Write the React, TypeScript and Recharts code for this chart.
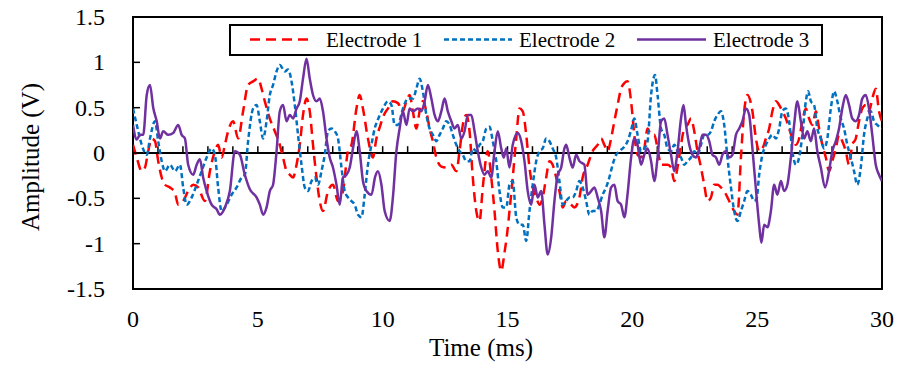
import { LineChart, Line, XAxis, YAxis, ReferenceLine, ReferenceArea, Legend } from "recharts";

// time in ms, amplitude in V
const e1Time = [
  0, 0.15, 0.35, 0.48, 0.61, 0.75, 0.88, 1.01, 1.15, 1.28, 1.48, 1.68, 1.81, 2.01, 2.21, 2.41, 2.61, 2.88, 3.08, 3.28,
  3.41, 3.55, 3.68, 3.81, 4.01, 4.21, 4.41, 4.61, 4.81, 5.01, 5.15, 5.28, 5.48, 5.68, 5.88, 6.01, 6.15, 6.28, 6.41, 6.55,
  6.68, 6.81, 6.95, 7.08, 7.21, 7.35, 7.48, 7.61, 7.81, 8.01, 8.21, 8.41, 8.61, 8.75, 8.95, 9.08, 9.21, 9.41, 9.61, 9.75,
  9.9, 10.05, 10.21, 10.41, 10.61, 10.81, 10.95, 11.08, 11.21, 11.35, 11.48, 11.61, 11.75, 11.88, 12.01, 12.15, 12.35, 12.55, 12.75, 12.95,
  13.08, 13.21, 13.35, 13.48, 13.61, 13.75, 13.88, 14.01, 14.21, 14.35, 14.48, 14.61, 14.75, 14.88, 14.98, 15.08, 15.21, 15.35, 15.48, 15.61,
  15.75, 15.88, 16.01, 16.15, 16.28, 16.41, 16.55, 16.68, 16.81, 16.95, 17.08, 17.21, 17.35, 17.55, 17.68, 17.88, 18.01, 18.21, 18.41, 18.61,
  18.75, 18.88, 19.01, 19.15, 19.28, 19.41, 19.55, 19.68, 19.81, 19.95, 20.08, 20.21, 20.35, 20.48, 20.61, 20.75, 20.88, 21.01, 21.15, 21.28,
  21.41, 21.55, 21.68, 21.81, 21.95, 22.08, 22.21, 22.35, 22.48, 22.61, 22.75, 22.88, 23.01, 23.15, 23.28, 23.41, 23.55, 23.68, 23.81, 23.95,
  24.08, 24.21, 24.35, 24.48, 24.61, 24.81, 24.95, 25.08, 25.21, 25.35, 25.48, 25.61, 25.75, 25.88, 26.01, 26.15, 26.28, 26.41, 26.55, 26.68,
  26.81, 26.95, 27.08, 27.21, 27.35, 27.48, 27.61, 27.75, 27.88, 28.01, 28.15, 28.28, 28.41, 28.55, 28.68, 28.81, 28.95, 29.08, 29.21, 29.35,
  29.48, 29.61, 29.75, 29.88, 30,
];
const e1Amp = [
  0.09, -0.05, -0.2, -0.16, 0.02, 0.16, 0.13, -0.09, -0.27, -0.35, -0.38, -0.44, -0.57, -0.53, -0.42, -0.35, -0.38, -0.53, -0.2, 0.02,
  0.09, -0.05, 0.09, 0.24, 0.35, 0.16, 0.46, 0.75, 0.79, 0.82, 0.71, 0.57, 0.38, 0.24, 0.09, -0.05, -0.2, -0.24, -0.27, -0.13,
  0.09, 0.42, 0.6, 0.46, 0.09, -0.27, -0.53, -0.64, -0.42, -0.35, -0.53, -0.42, 0.02, 0.09, 0.49, 0.64, 0.49, 0.16, -0.05, 0.16,
  0.3, 0.42, 0.49, 0.57, 0.55, 0.46, 0.57, 0.64, 0.46, 0.27, 0.46, 0.57, 0.46, 0.27, 0.13, -0.05, -0.15, -0.16, -0.13, -0.2,
  0.02, 0.31, 0.42, 0.24, -0.27, -0.64, -0.75, -0.38, 0.02, -0.27, -0.64, -1.08, -1.3, -1.1, -0.9, -0.64, -0.27, 0.16, 0.49, 0.46,
  0.2, -0.16, -0.38, -0.49, -0.57, -0.49, -0.27, -0.09, -0.13, -0.27, -0.42, -0.6, -0.53, -0.57, -0.6, -0.49, -0.27, -0.13, 0.02, 0.09,
  0.16, 0.09, 0.02, 0.16, 0.35, 0.53, 0.71, 0.77, 0.79, 0.57, 0.2, -0.02, -0.05, 0.05, 0.27, 0.2, 0.2, 0.05, -0.13, -0.13,
  -0.13, -0.16, -0.31, -0.16, 0.09, 0.27, 0.31, 0.38, 0.24, 0.02, -0.16, -0.35, -0.53, -0.49, -0.35, -0.35, -0.38, -0.42, -0.49, -0.57,
  -0.64, -0.68, -0.05, 0.46, 0.64, 0.46, 0.16, 0.02, 0.05, 0.16, 0.27, 0.46, 0.57, 0.53, 0.46, 0.38, 0.27, 0.16, 0.09, 0.16,
  0.35, 0.49, 0.38, 0.31, 0.46, 0.27, 0.09, -0.05, -0.2, -0.09, 0.05, 0.2, 0.13, 0.02, -0.13, 0.09, 0.16, 0.35, 0.49, 0.53,
  0.46, 0.6, 0.71, 0.46, 0.35,
];

const e2Time = [
  0, 0.15, 0.35, 0.55, 0.68, 0.88, 1.01, 1.15, 1.28, 1.48, 1.68, 1.88, 2.01, 2.15, 2.35, 2.55, 2.75, 2.95, 3.15, 3.28,
  3.41, 3.55, 3.75, 3.95, 4.15, 4.35, 4.48, 4.61, 4.81, 4.95, 5.08, 5.21, 5.35, 5.48, 5.61, 5.75, 5.88, 6.08, 6.21, 6.35,
  6.48, 6.61, 6.75, 6.88, 7.01, 7.15, 7.28, 7.41, 7.55, 7.68, 7.81, 7.95, 8.08, 8.21, 8.35, 8.48, 8.61, 8.75, 8.88, 9.01,
  9.15, 9.28, 9.41, 9.55, 9.68, 9.81, 10.01, 10.21, 10.35, 10.48, 10.61, 10.81, 11.01, 11.21, 11.35, 11.48, 11.61, 11.75, 11.88, 12.01,
  12.15, 12.28, 12.41, 12.55, 12.68, 12.81, 12.95, 13.08, 13.21, 13.35, 13.48, 13.61, 13.75, 13.88, 14.01, 14.15, 14.28, 14.41, 14.55, 14.68,
  14.81, 14.95, 15.08, 15.21, 15.35, 15.48, 15.61, 15.75, 15.88, 16.01, 16.15, 16.28, 16.41, 16.55, 16.68, 16.81, 16.95, 17.08, 17.21, 17.35,
  17.48, 17.61, 17.75, 17.88, 18.01, 18.15, 18.28, 18.41, 18.55, 18.68, 18.81, 18.95, 19.08, 19.21, 19.35, 19.48, 19.68, 19.81, 19.95, 20.08,
  20.21, 20.35, 20.48, 20.61, 20.75, 20.91, 21.01, 21.15, 21.28, 21.41, 21.55, 21.68, 21.81, 21.95, 22.08, 22.21, 22.35, 22.48, 22.61, 22.75,
  22.88, 23.01, 23.15, 23.28, 23.41, 23.55, 23.68, 23.81, 23.95, 24.08, 24.21, 24.35, 24.48, 24.61, 24.75, 24.88, 24.98, 25.08, 25.21, 25.35,
  25.48, 25.61, 25.75, 25.88, 26.01, 26.15, 26.28, 26.41, 26.55, 26.68, 26.81, 26.95, 27.04, 27.15, 27.28, 27.41, 27.55, 27.68, 27.81, 27.95,
  28.08, 28.21, 28.35, 28.48, 28.61, 28.75, 28.88, 29.01, 29.15, 29.28, 29.41, 29.55, 29.68, 29.81, 30,
];
const e2Amp = [
  0.49, 0.31, 0.09, -0.02, 0.16, 0.35, 0.13, -0.09, -0.2, -0.13, -0.2, -0.13, -0.38, -0.57, -0.49, -0.35, -0.2, -0.05, 0.05, -0.02,
  -0.38, -0.64, -0.57, -0.46, -0.38, -0.27, -0.24, 0.13, 0.49, 0.53, 0.35, 0.16, 0.35, 0.64, 0.75, 0.9, 0.97, 0.9, 0.92, 0.79,
  0.53, 0.2, -0.13, -0.38, -0.42, -0.31, -0.27, -0.35, -0.2, -0.02, 0.24, 0.27, 0.24, 0.16, -0.16, -0.42, -0.49, -0.53, -0.57, -0.68,
  -0.71, -0.46, -0.13, 0.09, 0.27, 0.37, 0.49, 0.57, 0.53, 0.31, 0.31, 0.49, 0.6, 0.6, 0.71, 0.82, 0.68, 0.42, 0.27, 0.2,
  0.13, 0.2, 0.27, 0.35, 0.31, 0.2, 0.09, 0.02, -0.02, -0.09, -0.09, 0.05, 0.02, 0.09, 0.13, 0.27, 0.29, 0.13, -0.09, -0.42,
  -0.6, -0.6, -0.35, -0.31, -0.71, -0.79, -0.79, -0.97, -0.64, -0.35, -0.09, 0.02, 0.05, 0.16, 0.13, 0.05, -0.05, -0.31, -0.57, -0.53,
  -0.49, -0.49, -0.42, -0.31, -0.38, -0.53, -0.68, -0.64, -0.64, -0.57, -0.46, -0.38, -0.27, -0.13, -0.02, 0.02, 0.07, 0.13, 0.25, 0.38,
  0.2, 0.02, 0.05, 0.13, 0.64, 0.86, 0.64, 0.27, 0.2, 0.05, 0.02, 0.09, 0.02, -0.05, -0.13, -0.09, -0.05, 0.02, -0.02, 0.09,
  0.2, 0.2, 0.24, 0.35, 0.42, 0.46, 0.31, -0.05, -0.38, -0.64, -0.75, -0.64, -0.53, -0.42, -0.46, -0.53, -0.5, -0.24, -0.02, 0.09,
  0.16, 0.2, 0.16, 0.27, 0.46, 0.49, 0.35, 0.02, -0.13, -0.05, 0.2, 0.57, 0.68, 0.57, 0.53, 0.27, 0.16, 0.05, 0.16, 0.49,
  0.68, 0.57, 0.38, 0.27, 0.09, -0.05, -0.2, -0.35, -0.16, 0.2, 0.38, 0.46, 0.35, 0.31, 0.27,
];

const e3Time = [
  0, 0.15, 0.28, 0.41, 0.55, 0.68, 0.81, 0.95, 1.08, 1.21, 1.41, 1.61, 1.81, 1.95, 2.08, 2.21, 2.41, 2.55, 2.68, 2.81,
  2.95, 3.15, 3.35, 3.48, 3.68, 3.88, 4.08, 4.28, 4.48, 4.68, 4.95, 5.08, 5.21, 5.35, 5.48, 5.61, 5.75, 5.88, 6.01, 6.15,
  6.28, 6.41, 6.55, 6.68, 6.81, 6.95, 7.08, 7.21, 7.35, 7.48, 7.61, 7.75, 7.88, 8.01, 8.15, 8.28, 8.41, 8.55, 8.68, 8.81,
  8.95, 9.08, 9.21, 9.35, 9.55, 9.7, 9.81, 9.95, 10.08, 10.28, 10.41, 10.55, 10.68, 10.81, 10.95, 11.08, 11.21, 11.41, 11.55, 11.68,
  11.81, 11.95, 12.08, 12.21, 12.35, 12.48, 12.61, 12.75, 12.88, 13.01, 13.15, 13.28, 13.41, 13.55, 13.68, 13.81, 13.95, 14.08, 14.21, 14.35,
  14.48, 14.61, 14.75, 14.85, 14.95, 15.08, 15.21, 15.41, 15.55, 15.68, 15.81, 15.95, 16.08, 16.21, 16.35, 16.48, 16.61, 16.75, 16.88, 17.01,
  17.15, 17.28, 17.35, 17.48, 17.61, 17.75, 17.88, 18.08, 18.21, 18.35, 18.48, 18.61, 18.75, 18.88, 19.01, 19.15, 19.28, 19.41, 19.55, 19.68,
  19.81, 19.95, 20.08, 20.21, 20.35, 20.48, 20.61, 20.75, 20.88, 21.01, 21.15, 21.28, 21.41, 21.55, 21.68, 21.81, 21.95, 22.05, 22.15, 22.28,
  22.41, 22.55, 22.68, 22.81, 22.95, 23.08, 23.21, 23.35, 23.48, 23.61, 23.75, 23.88, 24.01, 24.15, 24.28, 24.41, 24.55, 24.68, 24.81, 24.95,
  25.08, 25.17, 25.28, 25.41, 25.55, 25.68, 25.81, 25.95, 26.08, 26.21, 26.35, 26.48, 26.61, 26.75, 26.88, 27.01, 27.15, 27.28, 27.41, 27.55,
  27.72, 27.88, 28.01, 28.15, 28.28, 28.41, 28.55, 28.68, 28.81, 28.95, 29.08, 29.21, 29.35, 29.48, 29.61, 29.75, 29.88, 30,
];
const e3Amp = [
  0.31, 0.15, 0.2, 0.2, 0.64, 0.75, 0.5, 0.35, 0.16, 0.24, 0.2, 0.22, 0.31, 0.2, 0.16, -0.13, -0.24, -0.13, -0.07, -0.27,
  -0.42, -0.57, -0.62, -0.68, -0.6, -0.42, 0.02, -0.02, -0.24, -0.4, -0.49, -0.57, -0.68, -0.6, -0.42, -0.35, 0.02, 0.46, 0.53, 0.35,
  0.42, 0.38, 0.49, 0.57, 0.82, 1.04, 0.82, 0.64, 0.57, 0.6, 0.46, 0.16, -0.05, -0.16, -0.35, -0.57, -0.27, -0.24, -0.16, 0.05,
  0.24, 0.02, -0.31, -0.42, -0.46, -0.26, -0.2, -0.35, -0.64, -0.75, -0.49, 0.02, 0.27, 0.46, 0.31, 0.49, 0.46, 0.49, 0.46, 0.57,
  0.75, 0.6, 0.42, 0.35, 0.46, 0.6, 0.46, 0.35, 0.27, 0.31, 0.16, 0.24, 0.42, 0.42, 0.24, 0.02, -0.16, -0.24, -0.2, -0.27,
  0.02, 0.24, 0.05, -0.05, 0.05, -0.16, 0.09, 0.22, 0.13, -0.09, -0.42, -0.57, -0.35, -0.49, -0.42, -0.79, -1.12, -0.93, -0.53, -0.24,
  -0.16, 0.05, 0.09, -0.05, -0.16, -0.02, -0.09, -0.13, -0.46, -0.42, -0.38, -0.49, -0.64, -0.93, -0.64, -0.38, -0.35, -0.53, -0.57, -0.71,
  -0.45, -0.05, 0.16, 0.09, -0.13, -0.02, 0.05, -0.09, -0.31, -0.05, 0.35, 0.38, 0.2, -0.02, -0.2, 0.02, 0.38, 0.53, 0.31, 0.09,
  -0.02, -0.05, 0.05, 0.2, 0.2, 0.13, -0.02, -0.05, -0.13, -0.02, 0.02, -0.05, -0.02, 0.2, 0.27, 0.35, 0.49, 0.42, 0.05, -0.4,
  -0.79, -0.99, -0.79, -0.82, -0.64, -0.35, -0.46, -0.31, -0.42, -0.35, -0.05, 0.31, 0.57, 0.35, 0.16, 0.24, 0.13, 0.27, 0.02, -0.16,
  -0.38, -0.2, 0.02, 0.13, 0.27, 0.49, 0.64, 0.53, 0.38, 0.35, 0.42, 0.6, 0.64, 0.49, 0.2, -0.13, -0.24, -0.31,
];

const seriesNames = ["Electrode 1", "Electrode 2", "Electrode 3"];
const xTicks = [0, 5, 10, 15, 20, 25, 30];
const xMinorTicks = [1, 2, 3, 4, 5, 6, 7, 8, 9, 10, 11, 12, 13, 14, 15, 16, 17, 18, 19, 20, 21, 22, 23, 24, 25, 26, 27, 28, 29];
const yLabelTicks = [-1.5, -1, -0.5, 0, 0.5, 1, 1.5];
const yTicks = [-1.5, -1.25, -1, -0.75, -0.5, -0.25, 0, 0.25, 0.5, 0.75, 1, 1.25, 1.5];

const toPoints = (ts: number[], vs: number[]) => ts.map((t, i) => ({ t, v: vs[i] }));
const seriesData = [toPoints(e1Time, e1Amp), toPoints(e2Time, e2Amp), toPoints(e3Time, e3Amp)];

const styles = [
  { color: "#FF0000", dash: "10 6" },
  { color: "#0070C0", dash: "5 3" },
  { color: "#7030A0", dash: undefined },
];
// legend sample / text offsets inside the legend box
const legendSlots = [
  { x: 21, w: 64, tx: 97 },
  { x: 215, w: 68, tx: 290 },
  { x: 408, w: 69, tx: 484 },
];

const FONT = "'Liberation Serif', 'Times New Roman', serif";

function YTick({ x, y, payload }: any) {
  const labelled = yLabelTicks.includes(payload.value);
  return (
    <g>
      <line x1={x} x2={x + 7} y1={y} y2={y} stroke="#000" strokeWidth={1.5} />
      {labelled && (
        <text x={x - 28} y={y} dy="0.34em" textAnchor="end" fontFamily={FONT} fontSize={24} fill="#000">
          {payload.value}
        </text>
      )}
    </g>
  );
}

function XTick({ x, y, payload }: any) {
  return (
    <text x={x} y={y + 38} textAnchor="middle" fontFamily={FONT} fontSize={24} fill="#000">
      {payload.value}
    </text>
  );
}

function LegendBox() {
  return (
    <svg width={594} height={32} style={{ display: "block" }}>
      <rect x={1} y={1} width={592} height={30} fill="#fff" stroke="#000" strokeWidth={2} />
      {seriesNames.map((name, i) => (
        <g key={name}>
          <line
            x1={legendSlots[i].x}
            x2={legendSlots[i].x + legendSlots[i].w}
            y1={15.5}
            y2={15.5}
            stroke={styles[i].color}
            strokeWidth={2.5}
            strokeDasharray={styles[i].dash}
          />
          <text x={legendSlots[i].tx} y={23} fontFamily={FONT} fontSize={21} fill="#000">
            {name}
          </text>
        </g>
      ))}
    </svg>
  );
}

export default function App() {
  return (
    <div style={{ width: 904, height: 365, background: "#fff" }}>
      <style>{"body{margin:0}"}</style>
      <LineChart width={904} height={365} margin={{ top: 17, right: 22, bottom: 0, left: 0 }}>
        <XAxis
          dataKey="t"
          type="number"
          domain={[0, 30]}
          ticks={xTicks}
          allowDataOverflow
          axisLine={false}
          tickLine={false}
          tickSize={0}
          tickMargin={0}
          height={76}
          tick={<XTick />}
          label={({ viewBox }: any) => (
            <text x={481} y={viewBox.y + 67} textAnchor="middle" fontFamily={FONT} fontSize={25} fill="#000">
              Time (ms)
            </text>
          )}
        />
        <YAxis
          type="number"
          domain={[-1.5, 1.5]}
          ticks={yTicks}
          allowDataOverflow
          axisLine={false}
          tickLine={false}
          tickSize={0}
          tickMargin={0}
          width={133}
          tick={<YTick />}
          label={({ viewBox }: any) => {
            const cx = 30;
            const cy = viewBox.y + viewBox.height / 2 + 4;
            return (
              <text
                x={cx}
                y={cy}
                transform={`rotate(-90 ${cx} ${cy})`}
                textAnchor="middle"
                dominantBaseline="central"
                fontFamily={FONT}
                fontSize={25}
                fill="#000"
              >
                Amplitude (V)
              </text>
            );
          }}
        />
        <ReferenceArea x1={0} x2={30} y1={-1.5} y2={1.5} fill="none" stroke="#000" strokeWidth={2} ifOverflow="visible" />
        <ReferenceLine y={0} stroke="#000" strokeWidth={2} />
        {xMinorTicks.map((t) => (
          <ReferenceLine key={t} segment={[{ x: t, y: 0 }, { x: t, y: 0.075 }]} stroke="#000" strokeWidth={1.5} />
        ))}
        {seriesData.map((data, i) => (
          <Line
            key={seriesNames[i]}
            data={data}
            dataKey="v"
            name={seriesNames[i]}
            type="monotone"
            stroke={styles[i].color}
            strokeWidth={2.5}
            strokeDasharray={styles[i].dash}
            dot={false}
            activeDot={false}
            isAnimationActive={false}
          />
        ))}
        <Legend
          layout="horizontal"
          verticalAlign="middle"
          content={<LegendBox />}
          wrapperStyle={{ top: 24, left: 229, width: 594, height: 32 }}
        />
      </LineChart>
    </div>
  );
}
